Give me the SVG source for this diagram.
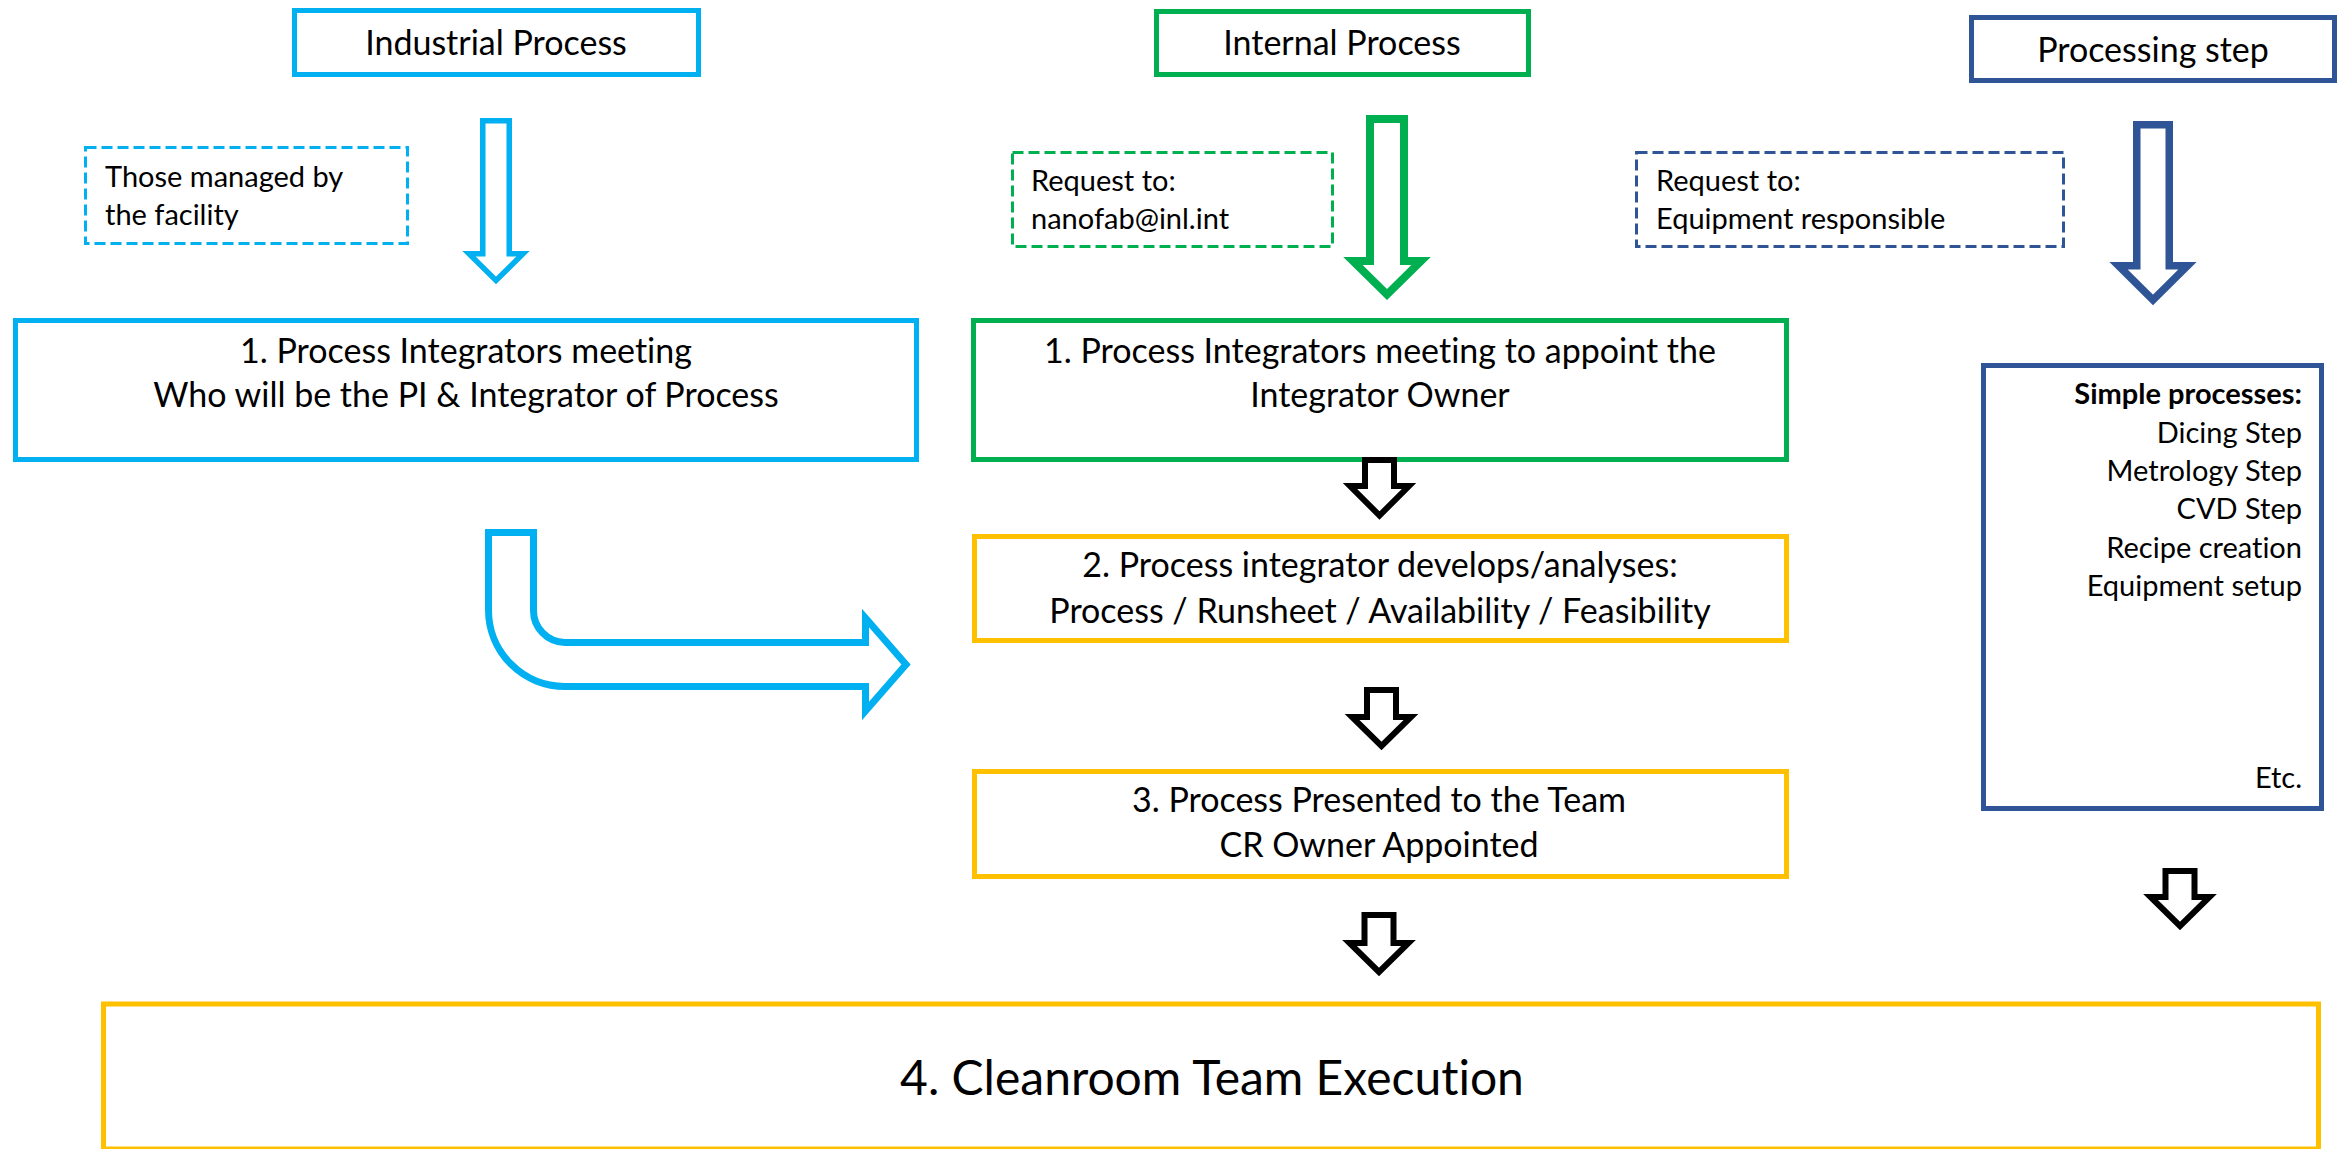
<svg xmlns="http://www.w3.org/2000/svg" width="2341" height="1149" viewBox="0 0 2341 1149">
<style>
  .box { fill: #FFFFFF; stroke-width: 5; }
  .dash { fill: #FFFFFF; stroke-width: 3; stroke-dasharray: 11 5; }
  .blue { stroke: #00B0F0; }
  .green { stroke: #00B050; }
  .navy { stroke: #2F5597; }
  .yellow { stroke: #FFC000; }
  .t { font-family: Lato, "Liberation Sans", sans-serif; fill: #000000; font-variant-ligatures: none; }
  .m { font-size: 34px; text-anchor: middle; }
  .s { font-size: 29px; }
  .r { font-size: 29px; text-anchor: end; }
  .big { font-size: 48px; text-anchor: middle; }
  .arr { fill: #FFFFFF; stroke-linejoin: miter; }
  .blk { stroke: #000000; stroke-width: 6; }
</style>
<rect width="2341" height="1149" fill="#FFFFFF"/>

<g id="industrial-process">
  <rect class="box blue" x="294.5" y="10.5" width="404" height="64"/>
  <text class="t m" x="496" y="55">Industrial Process</text>
</g>
<g id="internal-process">
  <rect class="box green" x="1156.5" y="11.5" width="372" height="63"/>
  <text class="t m" x="1342" y="55">Internal Process</text>
</g>
<g id="processing-step">
  <rect class="box navy" x="1971.5" y="17.5" width="363" height="63"/>
  <text class="t m" x="2153" y="62">Processing step</text>
</g>

<g id="note-facility">
  <rect class="dash blue" x="85.5" y="147.5" width="322" height="96"/>
  <text class="t s" x="105" y="187">Those managed by</text>
  <text class="t s" x="105" y="225">the facility</text>
</g>
<g id="note-nanofab">
  <rect class="dash green" x="1012.5" y="152.5" width="320" height="94"/>
  <text class="t s" x="1031" y="191">Request to:</text>
  <text class="t s" x="1031" y="229">nanofab@inl.int</text>
</g>
<g id="note-equipment">
  <rect class="dash navy" x="1636.5" y="152.5" width="427" height="94"/>
  <text class="t s" x="1656" y="191">Request to:</text>
  <text class="t s" x="1656" y="229">Equipment responsible</text>
</g>

<g id="industrial-step1">
  <rect class="box blue" x="15.5" y="320.5" width="901" height="139"/>
  <text class="t m" x="466" y="363">1. Process Integrators meeting</text>
  <text class="t m" x="466" y="407">Who will be the PI &amp; Integrator of Process</text>
</g>
<g id="internal-step1">
  <rect class="box green" x="973.5" y="320.5" width="813" height="139"/>
  <text class="t m" x="1380" y="363">1. Process Integrators meeting to appoint the</text>
  <text class="t m" x="1380" y="407">Integrator Owner</text>
</g>
<g id="step2">
  <rect class="box yellow" x="974.5" y="536.5" width="812" height="104"/>
  <text class="t m" x="1380" y="577">2. Process integrator develops/analyses:</text>
  <text class="t m" x="1380" y="623">Process / Runsheet / Availability / Feasibility</text>
</g>
<g id="step3">
  <rect class="box yellow" x="974.5" y="771.5" width="812" height="105"/>
  <text class="t m" x="1379" y="812">3. Process Presented to the Team</text>
  <text class="t m" x="1379" y="857">CR Owner Appointed</text>
</g>
<g id="simple-processes">
  <rect class="box navy" x="1983.5" y="365.5" width="338" height="443"/>
  <text class="t r" x="2302" y="404" font-weight="bold">Simple processes:</text>
  <text class="t r" x="2302" y="443">Dicing Step</text>
  <text class="t r" x="2302" y="481">Metrology Step</text>
  <text class="t r" x="2302" y="519">CVD Step</text>
  <text class="t r" x="2302" y="558">Recipe creation</text>
  <text class="t r" x="2302" y="596">Equipment setup</text>
  <text class="t r" x="2302" y="788">Etc.</text>
</g>
<g id="step4">
  <rect class="box yellow" x="103.5" y="1004" width="2215" height="145"/>
  <text class="t big" x="1212" y="1095">4. Cleanroom Team Execution</text>
</g>

<g id="connectors">
  <polygon class="arr blue" stroke-width="5.5" points="482.75,120.75 509.25,120.75 509.25,253.75 523,253.75 496,280.5 469,253.75 482.75,253.75"/>
  <polygon class="arr green" stroke-width="8" points="1370,119 1404,119 1404,261 1421,261 1387,294.5 1353,261 1370,261"/>
  <polygon class="arr navy" stroke-width="7.5" points="2136.75,124.75 2169.25,124.75 2169.25,265.75 2187.5,265.75 2153,300 2118.5,265.75 2136.75,265.75"/>
  <path class="arr blue" stroke-width="7" d="M488.5,532.5 H533.5 V610 A32,32 0 0 0 565,642.5 H865.5 V618 L906,664.5 L865.5,711 V686.5 H565 A76.5,76.5 0 0 1 488.5,610 Z"/>
  <polygon class="arr blk" points="1365,460 1394,460 1394,486 1409,486 1379.5,515.5 1350,486 1365,486"/>
  <polygon class="arr blk" points="1367,690 1396,690 1396,717 1411,717 1381.5,746 1352,717 1367,717"/>
  <polygon class="arr blk" points="1364.5,915 1393.5,915 1393.5,943 1408.5,943 1379,972 1349.5,943 1364.5,943"/>
  <polygon class="arr blk" points="2165.5,871 2194.5,871 2194.5,897 2209.5,897 2180,926 2150.5,897 2165.5,897"/>
</g>
</svg>
